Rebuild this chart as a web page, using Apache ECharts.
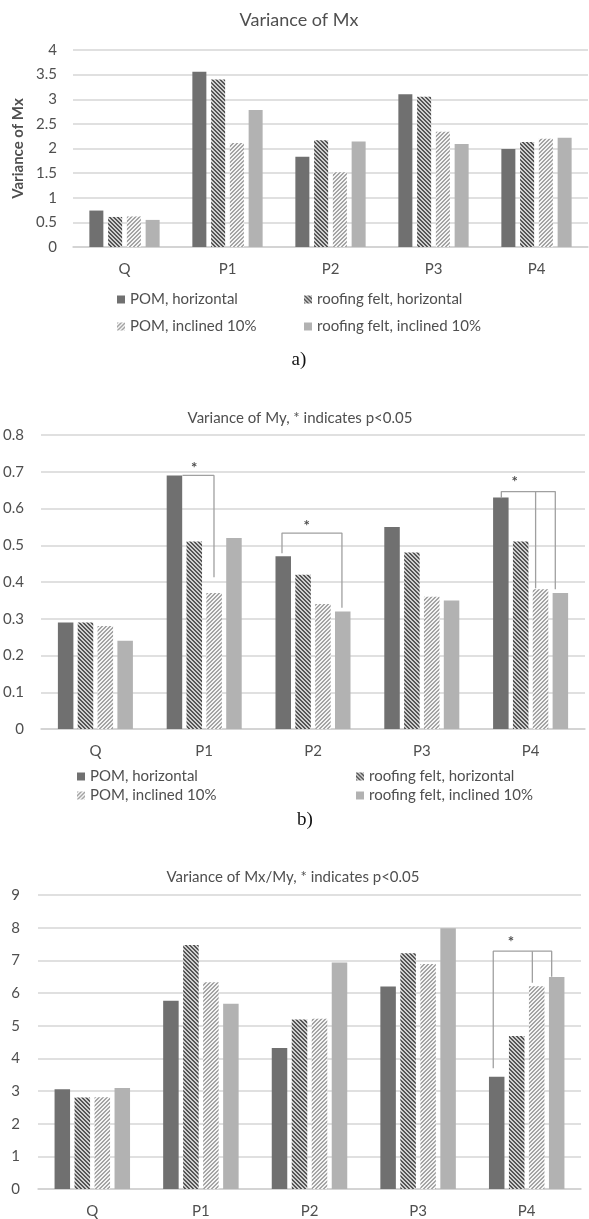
<!DOCTYPE html>
<html>
<head>
<meta charset="utf-8">
<script src="https://cdn.jsdelivr.net/npm/echarts@6/dist/echarts.min.js"></script>
<style>
html,body{margin:0;padding:0;background:#fff;}
#chart{width:589px;height:1219px;}
</style>
</head>
<body>
<div id="chart"></div>
<script>
// ---------- data ----------
const categories = ['Q', 'P1', 'P2', 'P3', 'P4'];
const seriesNames = ['POM, horizontal', 'roofing felt, horizontal', 'POM, inclined 10%', 'roofing felt, inclined 10%'];

// a) Variance of Mx
const mxPomH  = [0.74, 3.56, 1.83, 3.10, 1.99];
const mxRoofH = [0.61, 3.40, 2.17, 3.05, 2.13];
const mxPomI  = [0.62, 2.11, 1.52, 2.34, 2.20];
const mxRoofI = [0.55, 2.78, 2.14, 2.09, 2.22];
const mxAxis = [0, 4, 0.5];

// b) Variance of My
const myPomH  = [0.29, 0.69, 0.47, 0.55, 0.63];
const myRoofH = [0.29, 0.51, 0.42, 0.48, 0.51];
const myPomI  = [0.28, 0.37, 0.34, 0.36, 0.38];
const myRoofI = [0.24, 0.52, 0.32, 0.35, 0.37];
const myAxis = [0, 0.8, 0.1];

// c) Variance of Mx/My
const ratioPomH  = [3.05, 5.76, 4.32, 6.20, 3.44];
const ratioRoofH = [2.80, 7.47, 5.19, 7.22, 4.68];
const ratioPomI  = [2.81, 6.33, 5.21, 6.89, 6.21];
const ratioRoofI = [3.09, 5.67, 6.93, 7.98, 6.49];
const ratioAxis = [0, 9, 1];

// significance brackets: x in category units (index +/- offset), y in data units
const myBrackets = [
  [[0.80, 0.69], [1.09, 0.69], [1.09, 0.413]],
  [[1.715, 0.478], [1.715, 0.533], [2.266, 0.533], [2.266, 0.33]],
  [[3.731, 0.628], [3.731, 0.646], [4.227, 0.646], [4.227, 0.38]],
  [[4.046, 0.646], [4.046, 0.383]]
];
const myStars = [[0.908, 0.717], [1.942, 0.56], [3.853, 0.679]];
const ratioBrackets = [
  [[3.692, 3.70], [3.692, 7.28], [4.23, 7.28], [4.23, 6.5]],
  [[4.052, 7.28], [4.052, 6.31]]
];
const ratioStars = [[3.855, 7.65]];

// ---------- styles ----------
const FONT = 'Lato, "Open Sans", sans-serif';
const TXT = '#4f4f4f';

function makeHatch(dir, lineColor, bgColor) {
  const s = 4;
  const c = document.createElement('canvas');
  c.width = s; c.height = s;
  const g = c.getContext('2d');
  g.fillStyle = bgColor; g.fillRect(0, 0, s, s);
  g.fillStyle = lineColor;
  for (let i = 0; i < s; i++) {
    const x = dir === 'down' ? i : s - 1 - i;
    g.fillRect(x, i, 1, 1);
    g.fillRect((x + 1) % s, i, 1, 1);
  }
  return c;
}
const fills = [
  '#707070',
  { image: makeHatch('down', '#555555', '#cfcfcf'), repeat: 'repeat' },
  { image: makeHatch('up', '#a4a4a4', '#f4f4f4'), repeat: 'repeat' },
  '#b2b2b2'
];

const grids = [
  { left: 73, right: 1, top: 50, bottom: 972 },
  { left: 41, right: 4, top: 435, bottom: 490 },
  { left: 38, right: 8, top: 895, bottom: 30 }
];
const axes = [mxAxis, myAxis, ratioAxis];
const dataSets = [
  [mxPomH, mxRoofH, mxPomI, mxRoofI],
  [myPomH, myRoofH, myPomI, myRoofI],
  [ratioPomH, ratioRoofH, ratioPomI, ratioRoofI]
];
const barWidths = [14, 15.5, 15.5];
const barGaps = ['34%', '28%', '29%'];
const labelMargins = [16, 17, 18];

const xAxis = [], yAxis = [], series = [];
grids.forEach((g, i) => {
  xAxis.push({
    type: 'category', gridIndex: i, data: categories,
    axisLine: { show: true, lineStyle: { color: '#d0d0d0', width: 1.5 } },
    axisTick: { show: false },
    axisLabel: { color: TXT, fontSize: 15, fontFamily: FONT, margin: 15 }
  });
  xAxis.push({
    type: 'value', gridIndex: i, min: -0.5, max: 4.5, show: false,
    splitLine: { show: false }
  });
  yAxis.push({
    type: 'value', gridIndex: i,
    min: axes[i][0], max: axes[i][1], interval: axes[i][2],
    axisLine: { show: false }, axisTick: { show: false },
    splitLine: { lineStyle: { color: '#d6d6d6', width: 1.5 } },
    axisLabel: { color: TXT, fontSize: 15, fontFamily: FONT, margin: labelMargins[i] }
  });
  dataSets[i].forEach((d, k) => {
    series.push({
      type: 'bar', name: seriesNames[k], xAxisIndex: 2 * i, yAxisIndex: i,
      data: d, barWidth: barWidths[i], barGap: barGaps[i],
      itemStyle: { color: fills[k] },
      emphasis: { disabled: true }, animation: false
    });
  });
});
yAxis[0].name = 'Variance of Mx';
yAxis[0].nameLocation = 'middle';
yAxis[0].nameRotate = 90;
yAxis[0].nameGap = 43;
yAxis[0].nameTextStyle = { color: TXT, fontSize: 15, fontWeight: 'bold', fontFamily: FONT };

function bracketSeries(list, grid) {
  list.forEach(b => {
    series.push({
      type: 'line', xAxisIndex: 2 * grid + 1, yAxisIndex: grid, data: b,
      symbol: 'none', silent: true, animation: false, z: 5,
      lineStyle: { color: '#a0a0a0', width: 1.3 }
    });
  });
}
function starSeries(list, grid) {
  series.push({
    type: 'scatter', xAxisIndex: 2 * grid + 1, yAxisIndex: grid, data: list,
    symbolSize: 1, itemStyle: { color: 'rgba(0,0,0,0)' }, silent: true, animation: false, z: 6,
    label: { show: true, position: 'inside', formatter: '*', color: '#222', fontSize: 15, fontWeight: 'bold', fontFamily: FONT, offset: [0, 3] }
  });
}
bracketSeries(myBrackets, 1); starSeries(myStars, 1);
bracketSeries(ratioBrackets, 2); starSeries(ratioStars, 2);

function legendCol(left, top, names, gap) {
  return {
    orient: 'vertical', left: left, top: top, padding: 0, itemGap: gap,
    itemWidth: 8, itemHeight: 8, icon: 'rect', selectedMode: false,
    data: names,
    textStyle: { color: TXT, fontSize: 15, fontFamily: FONT, padding: [0, 0, 0, 0] }
  };
}

const option = {
  backgroundColor: '#fff',
  animation: false,
  grid: grids,
  xAxis: xAxis,
  yAxis: yAxis,
  series: series,
  legend: [
    legendCol(117, 292, [seriesNames[0], seriesNames[2]], 12),
    legendCol(304, 292, [seriesNames[1], seriesNames[3]], 12),
    legendCol(77, 769, [seriesNames[0], seriesNames[2]], 4),
    legendCol(356, 769, [seriesNames[1], seriesNames[3]], 4)
  ],
  graphic: [
    { type: 'text', x: 299, y: 20, style: { text: 'Variance of Mx', fill: TXT, font: '18px ' + FONT, align: 'center', verticalAlign: 'middle' } },
    { type: 'text', x: 300, y: 418, style: { text: 'Variance of My, * indicates p<0.05', fill: TXT, font: '15px ' + FONT, align: 'center', verticalAlign: 'middle' } },
    { type: 'text', x: 293, y: 877, style: { text: 'Variance of Mx/My, * indicates p<0.05', fill: TXT, font: '15px ' + FONT, align: 'center', verticalAlign: 'middle' } },
    { type: 'text', x: 299, y: 360, style: { text: 'a)', fill: '#111', font: '19px "Liberation Serif", "Times New Roman", serif', align: 'center', verticalAlign: 'middle' } },
    { type: 'text', x: 305, y: 820, style: { text: 'b)', fill: '#111', font: '19px "Liberation Serif", "Times New Roman", serif', align: 'center', verticalAlign: 'middle' } }
  ]
};

const chart = echarts.init(document.getElementById('chart'), null, { renderer: 'canvas' });
chart.setOption(option);
</script>
</body>
</html>
